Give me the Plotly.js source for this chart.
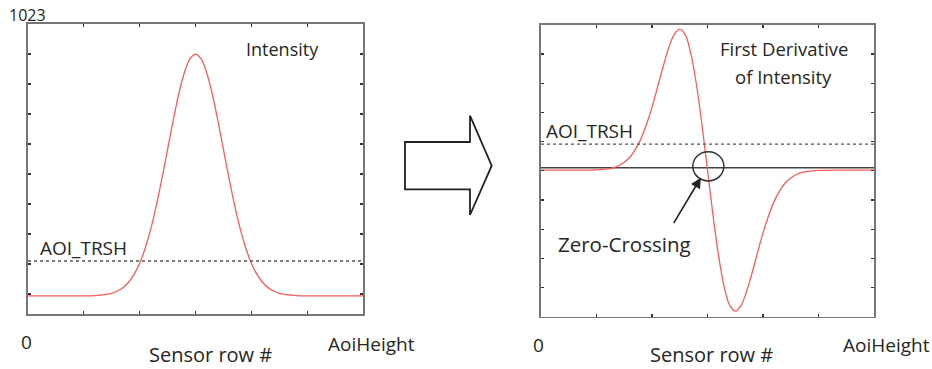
<!DOCTYPE html>
<html>
<head>
<meta charset="utf-8">
<script src="https://cdn.plot.ly/plotly-3.0.1.min.js"></script>
<style>html,body{margin:0;padding:0;background:#fff;}#chart{width:932px;height:369px;}</style>
</head>
<body>
<div id="chart"></div>
<script>
// ---- data ----
const sensorRows = [0,50,100,120,130,140,150,160,170,180,190,200,210,220,230,240,250,260,270,280,290,300,310,320,330,340,350,360,370,380,390,400,410,420,430,440,450,460,470,480,500,550,600];
const intensity  = [64,64,64,65,67,69,73,81,93,112,140,179,233,301,384,479,581,683,776,851,900,917,900,851,776,683,581,479,384,301,233,179,140,112,93,81,73,69,67,65,64,64,64];
const derivative = [-0.08,-0.08,-0.07,-0.04,0.00,0.07,0.19,0.36,0.63,0.99,1.48,2.07,2.76,3.46,4.10,4.57,4.75,4.55,3.91,2.86,1.48,-0.08,-1.64,-3.02,-4.07,-4.71,-4.91,-4.73,-4.26,-3.62,-2.92,-2.23,-1.64,-1.15,-0.79,-0.52,-0.35,-0.23,-0.16,-0.12,-0.09,-0.08,-0.08];
const aoiHeight = 600;
const intensityMax = 1023;
const thresholdIntensity = 187;
const thresholdDerivative = 0.81;
const derivRange = [-5.1, 4.9];
const xTickLabels = ["0", "AoiHeight"];
const xAxisTitle = "Sensor row #";
const panelTitles = ["Intensity", "First Derivative", "of Intensity"];
const thresholdLabel = "AOI_TRSH";
const topLabel = "1023";
const zeroLabel = "Zero-Crossing";

// ---- layout helpers ----
const W = 932, H = 369;
const px = v => v / W;
const py = v => 1 - v / H;
const FONT = 'Open Sans, Noto Sans, sans-serif';
const TXT = '#262626';
const RED = '#ff5a5a';
const AX = '#767676';

function axisBase(extra) {
  return Object.assign({
    showline: true, linecolor: AX, linewidth: 1.6, mirror: 'ticks',
    ticks: 'inside', ticklen: 3, tickwidth: 1.2, tickcolor: '#333',
    showgrid: false, zeroline: false, showticklabels: false, fixedrange: true
  }, extra);
}

const traces = [
  {x: sensorRows, y: intensity, xaxis: 'x', yaxis: 'y', type: 'scatter', mode: 'lines',
   line: {color: RED, width: 1.3, shape: 'spline', smoothing: 1}, hoverinfo: 'skip'},
  {x: sensorRows, y: derivative, xaxis: 'x2', yaxis: 'y2', type: 'scatter', mode: 'lines',
   line: {color: RED, width: 1.3, shape: 'spline', smoothing: 1}, hoverinfo: 'skip'}
];

function txt(text, x, y, size, extra) {
  return Object.assign({text: text, xref: 'paper', yref: 'paper', x: px(x), y: py(y),
    xanchor: 'center', yanchor: 'middle', showarrow: false,
    font: {family: FONT, size: size, color: TXT}}, extra || {});
}

const annotations = [
  txt(topLabel, 27.5, 15, 16),
  txt(panelTitles[0], 282, 49, 18),
  txt(thresholdLabel, 83, 248, 19),
  txt(xTickLabels[0], 26, 342, 19),
  txt(xTickLabels[1], 371, 344, 19),
  txt(xAxisTitle, 210, 369, 20, {yanchor: 'bottom', borderpad: 0}),
  txt(panelTitles[1], 784, 49, 18.5),
  txt(panelTitles[2], 783, 76, 18.5),
  txt(thresholdLabel, 589, 131, 19),
  txt(xTickLabels[0], 538, 345, 19),
  txt(xTickLabels[1], 886, 345, 19),
  txt(xAxisTitle, 711.5, 369, 20, {yanchor: 'bottom', borderpad: 0}),
  txt(zeroLabel, 624.5, 244, 20.5),
  {text: '', xref: 'x2', yref: 'y2', x: 288, y: -0.34, ax: -28, ay: 47,
   showarrow: true, arrowhead: 2, arrowsize: 1.3, arrowwidth: 1.6, arrowcolor: '#222', standoff: 0}
];

const arrowPts = [[405,142],[470,142],[470,115.7],[491.7,165.7],[470,215],[470,189.3],[405,189.3]];
const arrowPath = 'M ' + arrowPts.map(p => px(p[0]).toFixed(5) + ',' + py(p[1]).toFixed(5)).join(' L ') + ' Z';

const shapes = [
  {type: 'line', xref: 'x', yref: 'y', x0: 0, x1: aoiHeight, y0: thresholdIntensity, y1: thresholdIntensity,
   line: {color: '#555', width: 1.4, dash: 'dot'}},
  {type: 'line', xref: 'x2', yref: 'y2', x0: 0, x1: aoiHeight, y0: thresholdDerivative, y1: thresholdDerivative,
   line: {color: '#555', width: 1.4, dash: 'dot'}},
  {type: 'line', xref: 'x2', yref: 'y2', x0: 0, x1: aoiHeight, y0: 0, y1: 0, layer: 'below',
   line: {color: '#444', width: 1.5}},
  {type: 'circle', xref: 'x2', yref: 'y2', x0: 273.5, x1: 329.5, y0: -0.45, y1: 0.55,
   line: {color: '#333', width: 1.5}},
  {type: 'path', xref: 'paper', yref: 'paper', path: arrowPath,
   line: {color: '#222', width: 1.8}, fillcolor: 'rgba(0,0,0,0)'}
];

const layout = {
  width: W, height: H, autosize: false,
  margin: {l: 0, r: 0, t: 0, b: 0, pad: 0},
  paper_bgcolor: '#fff', plot_bgcolor: '#fff',
  showlegend: false,
  xaxis: axisBase({domain: [px(28), px(363)], range: [0, aoiHeight], tick0: 0, dtick: 100, anchor: 'y'}),
  yaxis: axisBase({domain: [py(314), py(24)], range: [0, intensityMax], tick0: intensityMax, dtick: 105.8, anchor: 'x'}),
  xaxis2: axisBase({domain: [px(541), px(874)], range: [0, aoiHeight], tick0: 0, dtick: 100, anchor: 'y2'}),
  yaxis2: axisBase({domain: [py(316.7), py(24.7)], range: derivRange, tick0: -0.1, dtick: 1, anchor: 'x2'}),
  annotations: annotations,
  shapes: shapes
};

Plotly.newPlot('chart', traces, layout, {displayModeBar: false, staticPlot: true});
</script>
</body>
</html>
